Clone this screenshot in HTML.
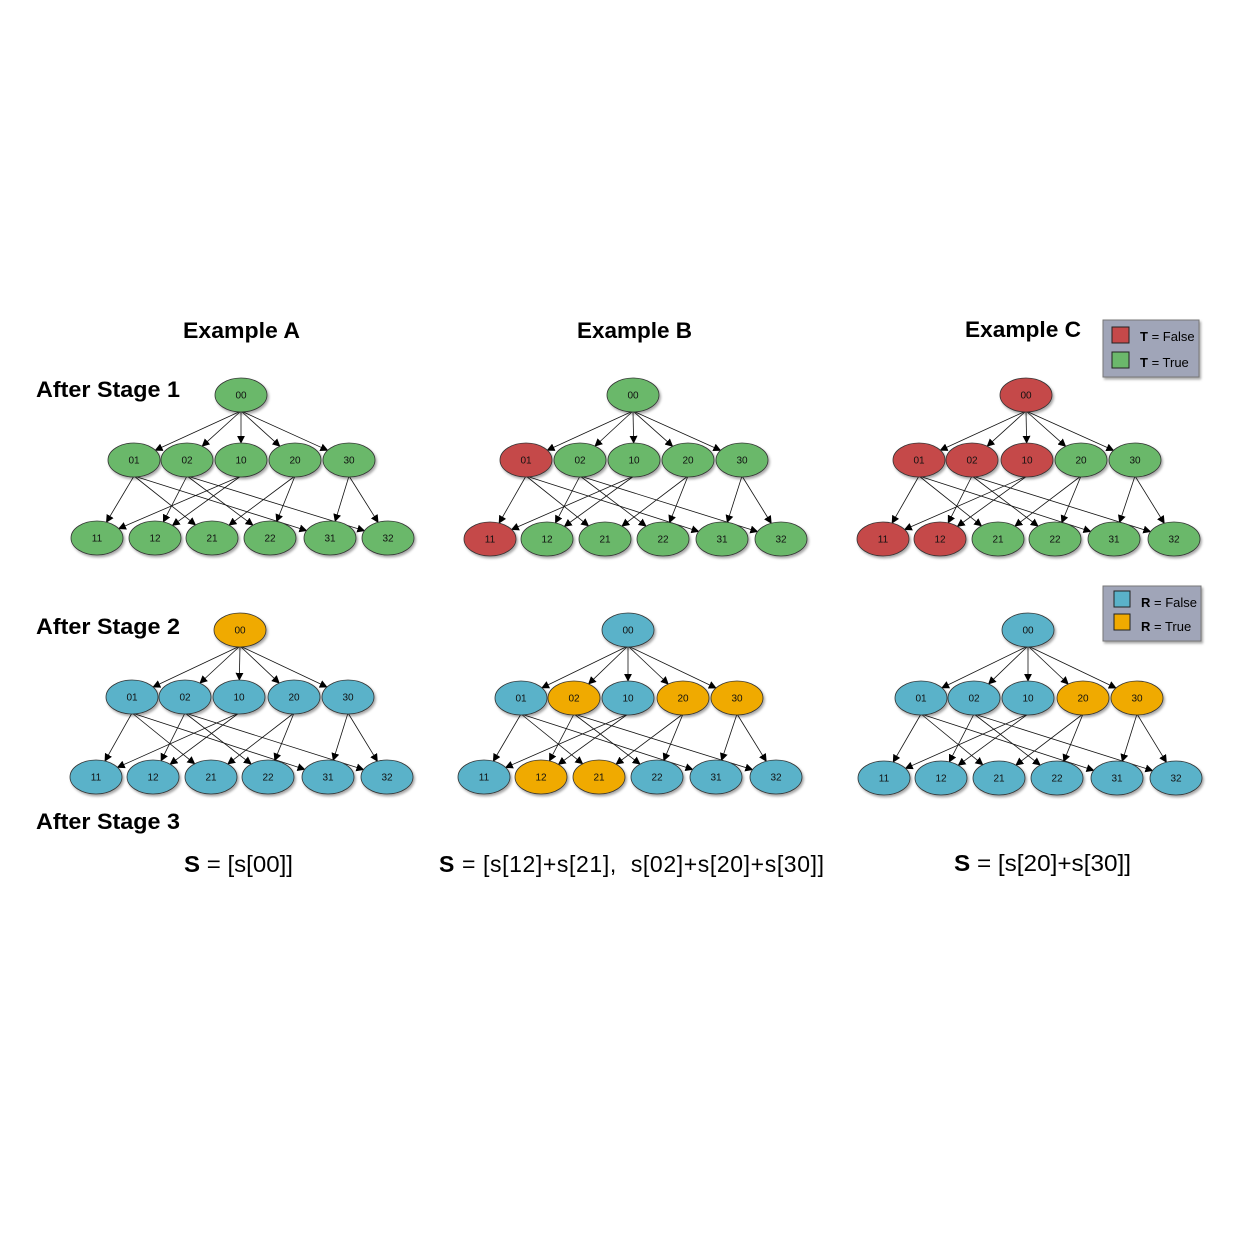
<!DOCTYPE html>
<html><head><meta charset="utf-8"><style>
html,body{margin:0;padding:0;background:#fff;}
svg{display:block;font-family:"Liberation Sans",sans-serif;}
.t{font-weight:bold;font-size:22px;}
.f{font-size:23px;}
</style></head><body>
<svg id="s" width="1235" height="1235" xmlns="http://www.w3.org/2000/svg">
<defs>
<marker id="a" viewBox="0 0 10 10" refX="9" refY="5" markerWidth="8" markerHeight="8" orient="auto" markerUnits="userSpaceOnUse"><path d="M0,0 L10,5 L0,10 z" fill="#000"/></marker>
<filter id="sh" x="-20%" y="-20%" width="150%" height="160%"><feDropShadow dx="1.5" dy="2" stdDeviation="1.2" flood-color="#000" flood-opacity="0.35"/></filter>
</defs>
<text class="t" x="183" y="338" textLength="117" lengthAdjust="spacingAndGlyphs">Example A</text>
<text class="t" x="577" y="338" textLength="115" lengthAdjust="spacingAndGlyphs">Example B</text>
<text class="t" x="965" y="337" textLength="116" lengthAdjust="spacingAndGlyphs">Example C</text>
<text class="t" x="36" y="397" textLength="144" lengthAdjust="spacingAndGlyphs">After Stage 1</text>
<text class="t" x="36" y="634" textLength="144" lengthAdjust="spacingAndGlyphs">After Stage 2</text>
<text class="t" x="36" y="829" textLength="144" lengthAdjust="spacingAndGlyphs">After Stage 3</text>
<text class="f" x="184" y="872" textLength="109" lengthAdjust="spacingAndGlyphs"><tspan font-weight="bold">S</tspan> = [s[00]]</text>
<text class="f" x="439" y="872" textLength="385" lengthAdjust="spacing" xml:space="preserve"><tspan font-weight="bold">S</tspan> = [s[12]+s[21],  s[02]+s[20]+s[30]]</text>
<text class="f" x="954" y="871" textLength="177" lengthAdjust="spacingAndGlyphs"><tspan font-weight="bold">S</tspan> = [s[20]+s[30]]</text>
<g filter="url(#sh)">
<rect x="1103" y="320" width="96" height="57" fill="#a0a5b8" stroke="#777" stroke-width="1"/>
<rect x="1103" y="586" width="98" height="55" fill="#a0a5b8" stroke="#777" stroke-width="1"/>
</g>
<rect x="1112" y="327" width="17" height="16" fill="#c5494a" stroke="#222"/>
<rect x="1112" y="352" width="17" height="16" fill="#6bb86b" stroke="#222"/>
<text x="1140" y="341" font-size="13"><tspan font-weight="bold">T</tspan> = False</text>
<text x="1140" y="367" font-size="13"><tspan font-weight="bold">T</tspan> = True</text>
<rect x="1114" y="591" width="16" height="16" fill="#5ab2c9" stroke="#222"/>
<rect x="1114" y="614" width="16" height="16" fill="#f0aa00" stroke="#222"/>
<text x="1141" y="607" font-size="13"><tspan font-weight="bold">R</tspan> = False</text>
<text x="1141" y="631" font-size="13"><tspan font-weight="bold">R</tspan> = True</text>
<g id="g"></g>
</svg>
<script>
var C={g:"#6bb86b",r:"#c5494a",b:"#5ab2c9",o:"#f0aa00"};
var ns="http://www.w3.org/2000/svg",G=document.getElementById("g");
function el(t,a){var e=document.createElementNS(ns,t);for(var k in a)e.setAttribute(k,a[k]);G.appendChild(e);return e;}
var names=["00","01","02","10","20","30","11","12","21","22","31","32"];
var edges=[[0,1],[0,2],[0,3],[0,4],[0,5],[1,6],[1,8],[1,10],[2,7],[2,9],[2,11],[3,6],[3,7],[4,8],[4,9],[5,10],[5,11]];
var RX=26,RY=17;
function graph(top,ty,mid,my,bot,by,cols){
 var P=[[top,ty]];mid.forEach(function(x){P.push([x,my]);});bot.forEach(function(x){P.push([x,by]);});
 edges.forEach(function(e){var s=P[e[0]],t=P[e[1]];
  var sx=s[0],sy=s[1]+RY-1;var dx=sx-t[0],dy=sy-t[1];
  var k=1/Math.sqrt(dx*dx/(RX*RX)+dy*dy/(RY*RY));
  el("line",{x1:sx,y1:sy,x2:t[0]+dx*k,y2:t[1]+dy*k,stroke:"#111","stroke-width":"0.8","marker-end":"url(#a)"});});
 P.forEach(function(p,i){
  el("ellipse",{cx:p[0],cy:p[1],rx:RX,ry:RY,fill:C[cols[i]],stroke:"#333","stroke-width":"0.8",filter:"url(#sh)"});
  var t=el("text",{x:p[0],y:p[1]+3.5,"text-anchor":"middle","font-size":"10",fill:"#111"});t.textContent=names[i];});
}
graph(241,395,[134,187,241,295,349],460,[97,155,212,270,330,388],538,"gggggggggggg");
graph(633,395,[526,580,634,688,742],460,[490,547,605,663,722,781],539,"grggggrggggg");
graph(1026,395,[919,972,1027,1081,1135],460,[883,940,998,1055,1114,1174],539,"rrrrggrrgggg");
graph(240,630,[132,185,239,294,348],697,[96,153,211,268,328,387],777,"obbbbbbbbbbb");
graph(628,630,[521,574,628,683,737],698,[484,541,599,657,716,776],777,"bbobooboobbb");
graph(1028,630,[921,974,1028,1083,1137],698,[884,941,999,1057,1117,1176],778,"bbbboobbbbbb");
</script>
</body></html>
